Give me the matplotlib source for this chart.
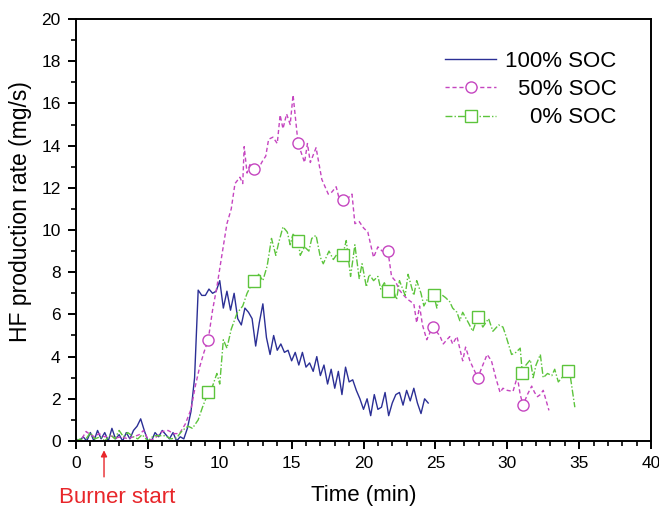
import numpy as np
import matplotlib
matplotlib.use("Agg")
import matplotlib.pyplot as plt

plt.rcParams['font.family'] = ['Liberation Sans', 'DejaVu Sans']

# ---- data ----
soc100_t0 = 0.0
soc100_step = 0.25
soc100_v = [0.1, 0.0, 0.2, 0.0, 0.4, 0.0, 0.5, 0.1, 0.4, 0.0, 0.6, 0.1, 0.3, 0.0, 0.4, 0.1,
            0.5, 0.7, 1.05, 0.5, 0.0, 0.0, 0.4, 0.2, 0.5, 0.3, 0.1, 0.4, 0.0, 0.2, 0.1, 0.6,
            1.4, 3.0, 7.15, 6.9, 6.9, 7.2, 7.0, 7.1, 7.6, 6.3, 7.1, 6.2, 7.0, 5.8, 5.5, 6.3,
            6.1, 5.8, 4.5, 5.6, 6.5, 4.9, 4.1, 5.0, 4.3, 4.6, 4.2, 4.3, 3.8, 4.2, 3.6, 4.2,
            3.5, 3.7, 3.3, 4.0, 3.1, 3.6, 2.7, 3.4, 2.5, 3.3, 2.2, 3.5, 2.8, 2.9, 2.4, 2.0,
            1.5, 2.0, 1.2, 2.2, 1.5, 1.6, 2.3, 1.2, 1.8, 2.2, 2.3, 1.7, 2.4, 1.9, 2.5, 1.8,
            1.3, 2.0, 1.8]

soc50_t = [0.0, 0.4, 0.7, 1.0, 1.3, 1.6, 2.0, 2.4, 2.8, 3.2, 3.6, 4.0, 4.4, 4.7, 5.0, 5.3,
           5.6, 6.0, 6.4, 6.8, 7.2, 7.6, 8.0, 8.3, 8.6, 8.9, 9.2, 9.5, 9.8, 10.1, 10.5, 10.8,
           11.06, 11.4, 11.6, 11.7, 11.9, 12.1, 12.35, 12.6, 13.0, 13.2, 13.4, 13.7, 14.0, 14.2,
           14.4, 14.65, 14.9, 15.1, 15.45, 15.9, 16.1, 16.3, 16.7, 17.1, 17.55, 17.8, 18.1, 18.3,
           18.55, 18.9, 19.2, 19.4, 19.7, 20.0, 20.3, 20.7, 21.0, 21.3, 21.7, 21.95, 22.2, 22.5,
           22.8, 23.1, 23.5, 23.7, 23.9, 24.1, 24.4, 24.8, 25.3, 25.55, 25.8, 26.0, 26.2, 26.5,
           26.9, 27.1, 27.4, 27.6, 27.95, 28.3, 28.6, 28.9, 29.2, 29.5, 29.7, 30.0, 30.4, 30.7,
           30.9, 31.1, 31.4, 31.7, 31.9, 32.1, 32.3, 32.5, 32.9]
soc50_v = [0.0, 0.1, 0.45, 0.3, 0.2, 0.35, 0.2, 0.25, 0.15, 0.2, 0.1, 0.2, 0.3, 0.5, 0.1, 0.05,
           0.2, 0.45, 0.5, 0.35, 0.35, 0.8, 1.5, 2.6, 3.5, 4.2, 4.8, 6.2, 7.3, 8.6, 10.3, 11.0,
           12.2, 12.5, 12.2, 13.95, 12.7, 13.1, 12.9, 12.8, 13.3, 13.5, 14.3, 14.4, 14.1, 15.45,
           14.8, 15.5, 15.0, 16.4, 14.1, 13.2, 14.1, 13.2, 13.9, 12.4, 11.7, 11.8, 12.05, 11.5,
           11.4, 11.5, 11.7, 10.3, 10.4, 10.1, 9.9, 8.7, 9.2, 9.0, 9.0, 7.8, 7.6, 7.15,
           6.9, 6.7, 6.5, 5.6, 6.4, 5.5, 4.8, 5.4, 5.0, 4.6, 4.8, 4.95, 4.6, 4.95,
           3.8, 4.45, 3.8, 3.5, 3.0, 3.6, 4.1, 3.8, 3.0, 2.3, 2.5, 2.4, 2.35, 3.05,
           2.2, 1.7, 2.2, 2.6, 2.3, 2.1, 2.2, 2.4, 1.45]
soc50_marker_t = [9.2, 12.35, 15.45, 18.55, 21.7, 24.8, 27.95, 31.1]

soc0_t = [0.0, 0.3, 0.6, 1.0, 1.3, 1.7, 2.0, 2.4, 2.7, 3.0, 3.3, 3.6, 4.0, 4.3, 4.6, 5.0,
          5.4, 5.8, 6.2, 6.6, 7.0, 7.4, 7.8, 8.1, 8.5, 8.8, 9.2, 9.5, 9.8, 10.0, 10.25, 10.5,
          10.8, 11.2, 11.6, 11.9, 12.35, 12.7, 13.0, 13.3, 13.6, 13.9, 14.1, 14.4, 14.7, 14.9,
          15.1, 15.45, 15.6, 15.9, 16.2, 16.4, 16.7, 17.0, 17.2, 17.6, 17.9, 18.2, 18.55, 18.8,
          19.1, 19.4, 19.7, 19.9, 20.2, 20.4, 20.7, 21.0, 21.2, 21.45, 21.7, 22.0, 22.3, 22.5,
          22.9, 23.1, 23.5, 23.7, 24.0, 24.2, 24.5, 24.9, 25.1, 25.3, 25.7, 26.0, 26.2, 26.5,
          26.7, 26.9, 27.3, 27.6, 27.95, 28.3, 28.7, 29.0, 29.4, 29.7, 29.9, 30.3, 30.6, 30.9,
          31.05, 31.3, 31.6, 31.8, 32.0, 32.3, 32.5, 32.8, 33.1, 33.3, 33.55, 33.8, 34.2, 34.4,
          34.7]
soc0_v = [0.0, 0.1, 0.0, 0.4, 0.1, 0.2, 0.0, 0.3, 0.1, 0.5, 0.2, 0.4, 0.2, 0.1, 0.3, 0.0,
          0.25, 0.25, 0.25, 0.1, 0.15, 0.5, 0.7, 0.6, 1.0, 1.6, 2.3, 2.6, 3.2, 2.7, 4.8, 4.4,
          5.3, 6.05, 6.4, 7.0, 7.6, 7.9, 7.6, 8.3, 9.6, 8.8, 9.4, 10.15, 9.9, 9.3,
          9.8, 9.5, 8.8, 9.2, 9.0, 9.6, 9.75, 8.7, 8.4, 9.0, 8.6, 8.9, 8.8, 9.5,
          7.8, 9.3, 7.7, 8.4, 7.3, 7.9, 7.6, 7.8, 7.2, 7.5, 7.1, 7.3, 6.7, 7.6,
          6.9, 7.9, 6.9, 7.6, 7.0, 6.4, 6.8, 6.9, 6.3, 7.0, 6.8, 6.6, 6.3, 6.1,
          5.7, 6.1, 5.6, 5.2, 5.9, 5.4, 5.8, 5.2, 5.5, 5.4, 5.0, 4.1, 4.2, 4.4,
          3.2, 3.6, 3.85, 3.0, 3.6, 4.1, 3.0, 3.2, 3.1, 3.4, 2.8, 3.0, 3.3, 3.0,
          1.6]
soc0_marker_t = [9.2, 12.35, 15.45, 18.55, 21.7, 24.9, 27.95, 31.05, 34.2]

labels = ["100% SOC", "50% SOC", "0% SOC"]
colors = ["#2b2f95", "#c545c0", "#5cc43c"]
burner_t = 1.95

# ---- plot ----
fig = plt.figure(figsize=(6.59, 5.11), dpi=100)
ax = fig.add_axes([0.1153, 0.137, 0.8726, 0.8258])

t100 = soc100_t0 + soc100_step * np.arange(len(soc100_v))
ax.plot(t100, soc100_v, color=colors[0], lw=1.0, label=labels[0])

idx50 = [int(np.argmin(np.abs(np.array(soc50_t) - m))) for m in soc50_marker_t]
ax.plot(soc50_t, soc50_v, color=colors[1], lw=1.0, ls=(0, (3, 2)),
        marker='o', markevery=idx50, ms=8, mfc='white', mec=colors[1], mew=1.0,
        label=labels[1])

idx0 = [int(np.argmin(np.abs(np.array(soc0_t) - m))) for m in soc0_marker_t]
ax.plot(soc0_t, soc0_v, color=colors[2], lw=1.0, ls=(0, (5, 1.5, 1, 1.5)),
        marker='s', markevery=idx0, ms=8, mfc='white', mec=colors[2], mew=1.0,
        label=labels[2])

ax.set_xlim(0, 40)
ax.set_ylim(0, 20)
ax.set_xticks(np.arange(0, 41, 5))
ax.set_xticks(np.arange(0, 41, 1), minor=True)
ax.set_yticks(np.arange(0, 21, 2))
ax.set_yticks(np.arange(0, 21, 1), minor=True)
ax.tick_params(which='major', direction='out', length=6, width=1.4, labelsize=12.5,
               top=False, right=False, pad=5)
ax.tick_params(which='minor', direction='out', length=3.5, width=1.2, top=False, right=False)
for s in ax.spines.values():
    s.set_linewidth(1.4)

ax.set_xlabel("Time (min)", fontsize=16, labelpad=10)
ax.set_ylabel("HF production rate (mg/s)", fontsize=16.5, labelpad=6)
ax.yaxis.set_label_coords(-0.077, 0.543)

leg = ax.legend(loc='upper right', bbox_to_anchor=(0.955, 0.945), frameon=False,
                fontsize=16, handlelength=2.3, handletextpad=0.4, labelspacing=0.32,
                borderaxespad=0.0)
fig.canvas.draw()
renderer = fig.canvas.get_renderer()
widths = [t.get_window_extent(renderer).width for t in leg.get_texts()]
wmax = max(widths)
for t, w in zip(leg.get_texts(), widths):
    t.set_position((wmax - w, 0))

# Burner start arrow and label
trans = ax.get_xaxis_transform()
ax.annotate("", xy=(burner_t, -0.022), xycoords=trans,
            xytext=(burner_t, -0.085), textcoords=trans,
            annotation_clip=False,
            arrowprops=dict(arrowstyle='-|>', color='#e8262a', lw=1.0,
                            shrinkA=0, shrinkB=0, mutation_scale=9))
ax.text(2.85, -0.133, "Burner start", transform=trans, ha='center', va='center',
        color='#e8262a', fontsize=16, clip_on=False)

fig.savefig("out.png", dpi=100)
